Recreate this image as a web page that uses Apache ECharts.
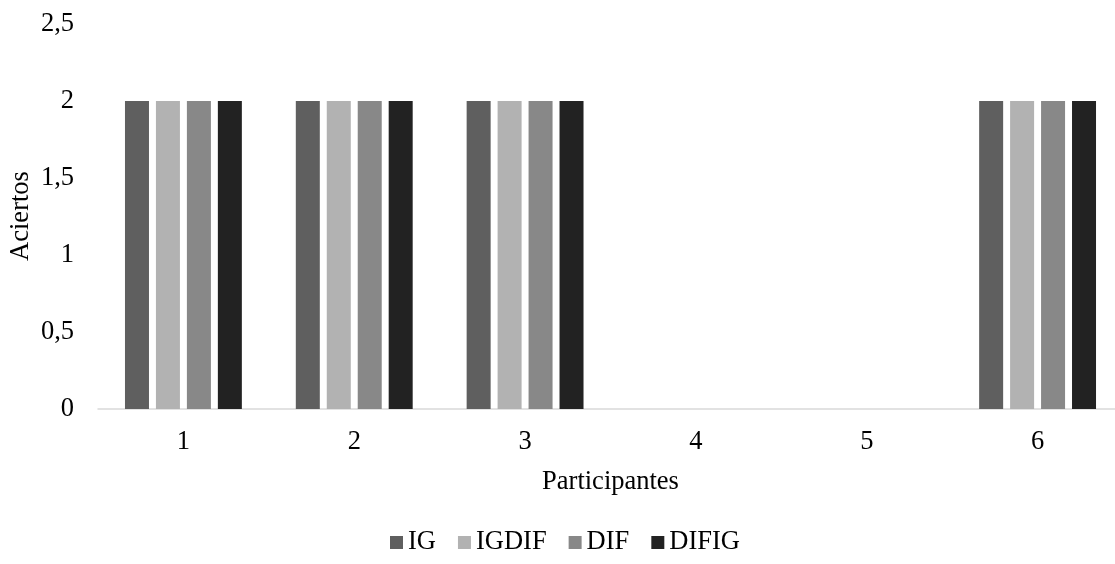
<!DOCTYPE html>
<html>
<head>
<meta charset="utf-8">
<script src="https://cdn.jsdelivr.net/npm/echarts@6/dist/echarts.min.js"></script>
<style>html,body{margin:0;padding:0;background:#fff;}#c{width:1115px;height:564px;}</style>
</head>
<body>
<div id="c"></div>
<script>
const categories = ['1', '2', '3', '4', '5', '6'];
const seriesNames = ['IG', 'IGDIF', 'DIF', 'DIFIG'];
const IG = [2, 2, 2, 0, 0, 2];
const IGDIF = [2, 2, 2, 0, 0, 2];
const DIF = [2, 2, 2, 0, 0, 2];
const DIFIG = [2, 2, 2, 0, 0, 2];
const yTicks = ['0', '0,5', '1', '1,5', '2', '2,5'];
const yTitle = 'Aciertos';
const colors = ['#5f5f5f', '#b2b2b2', '#888888', '#222222'];

const font = '"Liberation Serif", "Times New Roman", serif';
const fs = 26.5;
const values = [IG, IGDIF, DIF, DIFIG];
const chart = echarts.init(document.getElementById('c'));
chart.setOption({
  animation: false,
  textStyle: {fontFamily: font},
  grid: {left: 98, width: 1025, top: 24, bottom: 155, containLabel: false, outerBoundsMode: 'none'},
  graphic: [{
    type: 'text', x: 21, y: 216, rotation: Math.PI / 2,
    style: {text: yTitle, font: fs + 'px ' + font, fill: '#000', align: 'center', verticalAlign: 'middle'}
  }],
  legend: {
    bottom: 3, left: 385,
    itemWidth: 13, itemHeight: 13, itemGap: 22,
    icon: 'rect',
    textStyle: {fontFamily: font, fontSize: fs, color: '#000'},
    data: seriesNames
  },
  xAxis: {
    type: 'category', data: categories,
    name: 'Participantes', nameLocation: 'middle', nameGap: 60,
    nameTextStyle: {fontFamily: font, fontSize: fs, color: '#000'},
    axisLine: {lineStyle: {color: '#d9d9d9', width: 1.5}},
    axisTick: {show: false},
    axisLabel: {fontFamily: font, fontSize: fs, color: '#000', margin: 20}
  },
  yAxis: {
    type: 'value', min: 0, max: 2.5, interval: 0.5,
    axisLine: {show: false}, axisTick: {show: false},
    splitLine: {show: false},
    axisLabel: {fontFamily: font, fontSize: fs, color: '#000', margin: 24,
      formatter: v => yTicks[Math.round(v / 0.5)]}
  },
  series: seriesNames.map((n, i) => ({
    name: n, type: 'bar', data: values[i],
    barWidth: 24, barGap: '29%', barCategoryGap: '31%',
    itemStyle: {color: colors[i]}
  }))
});
</script>
</body>
</html>
